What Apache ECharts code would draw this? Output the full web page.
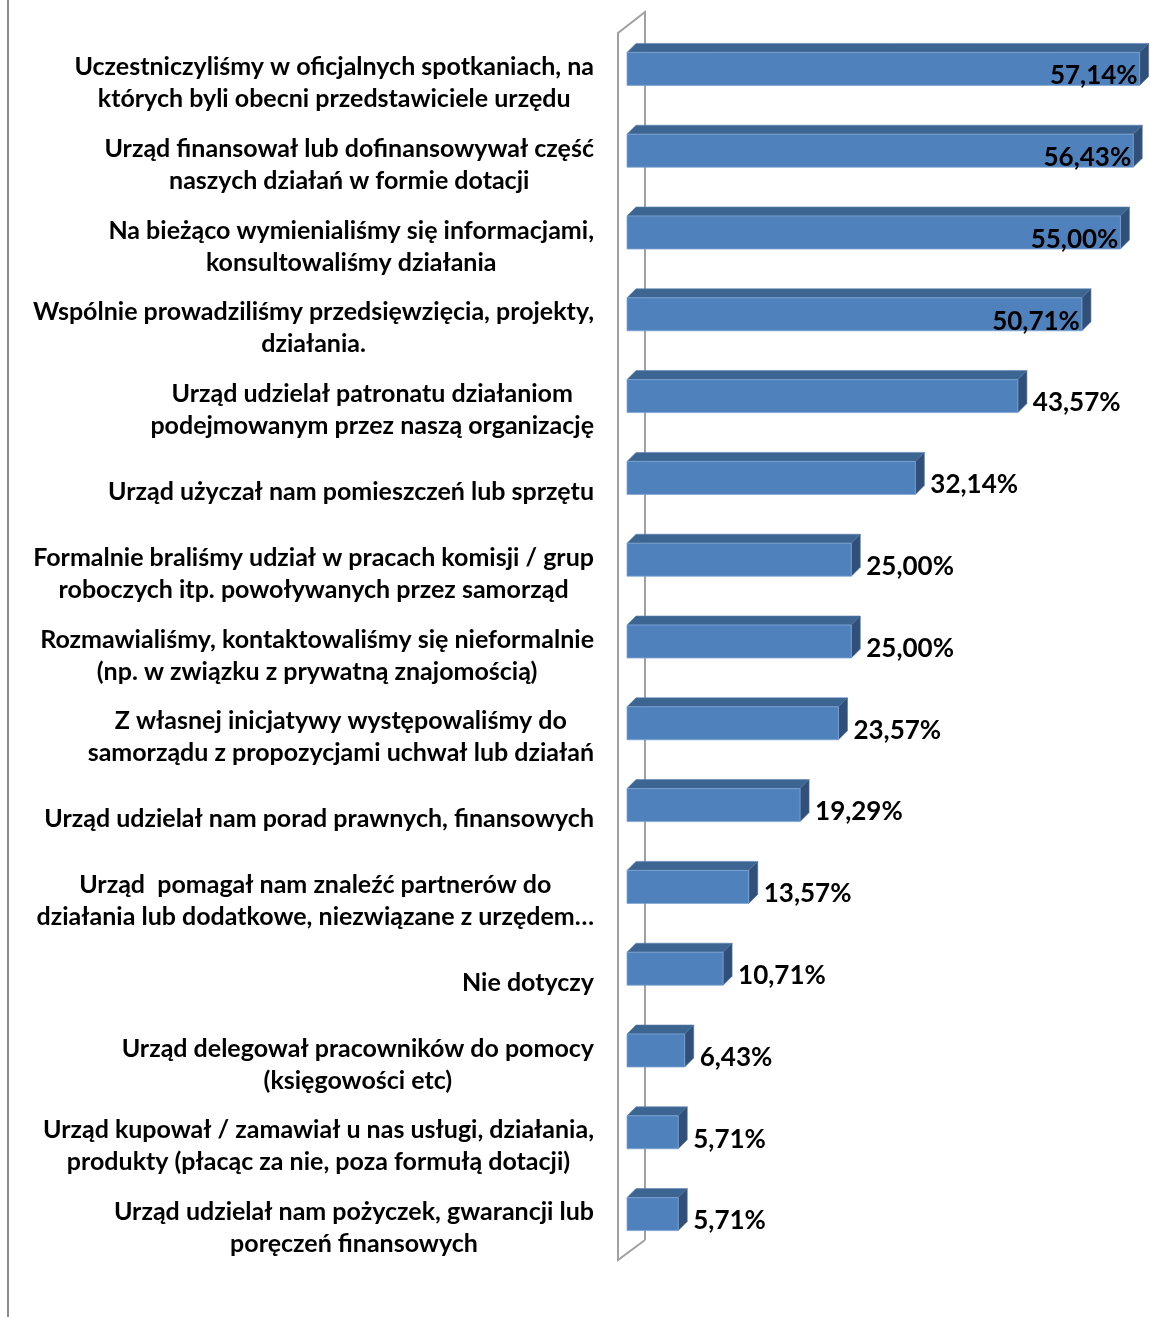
<!DOCTYPE html>
<html>
<head>
<meta charset="utf-8">
<script src="https://cdn.jsdelivr.net/npm/echarts@6/dist/echarts.min.js"></script>
<style>
html,body{margin:0;padding:0;background:#fff;}
#c{width:1150px;height:1317px;}
</style>
</head>
<body>
<div id="c"></div>
<script>
const categories = [
  "Uczestniczyliśmy w oficjalnych spotkaniach, na\nktórych byli obecni przedstawiciele urzędu",
  "Urząd finansował lub dofinansowywał część\nnaszych działań w formie dotacji",
  "Na bieżąco wymienialiśmy się informacjami,\nkonsultowaliśmy działania",
  "Wspólnie prowadziliśmy przedsięwzięcia, projekty,\ndziałania.",
  "Urząd udzielał patronatu działaniom\npodejmowanym przez naszą organizację",
  "Urząd użyczał nam pomieszczeń lub sprzętu",
  "Formalnie braliśmy udział w pracach komisji / grup\nroboczych itp. powoływanych przez samorząd",
  "Rozmawialiśmy, kontaktowaliśmy się nieformalnie\n(np. w związku z prywatną znajomością)",
  "Z własnej inicjatywy występowaliśmy do\nsamorządu z propozycjami uchwał lub działań",
  "Urząd udzielał nam porad prawnych, finansowych",
  "Urząd  pomagał nam znaleźć partnerów do\ndziałania lub dodatkowe, niezwiązane z urzędem…",
  "Nie dotyczy",
  "Urząd delegował pracowników do pomocy\n(księgowości etc)",
  "Urząd kupował / zamawiał u nas usługi, działania,\nprodukty (płacąc za nie, poza formułą dotacji)",
  "Urząd udzielał nam pożyczek, gwarancji lub\nporęczeń finansowych"
];
const values = [57.14, 56.43, 55.00, 50.71, 43.57, 32.14, 25.00, 25.00, 23.57, 19.29, 13.57, 10.71, 6.43, 5.71, 5.71];

const FONT = 'Lato';
const BAR_H = 33, DEPTH = 9, BAR_SHIFT = -12;

function fmt(v){ return v.toFixed(2).replace('.', ',') + '%'; }

const chart = echarts.init(document.getElementById('c'));

function renderItem(params, api){
  const cat = api.value(1);
  const v = api.value(0);
  const s = api.coord([0, cat]);
  const e = api.coord([v, cat]);
  const x0 = s[0], x1 = e[0];
  const yc = s[1] + BAR_SHIFT;
  const y0 = yc - BAR_H/2, y1 = yc + BAR_H/2, d = DEPTH;
  const inside = v > 45;
  return {
    type: 'group',
    children: [
      {type:'polygon', shape:{points:[[x0,y0],[x0+d,y0-d],[x1+d,y0-d],[x1,y0]]},
       style:{fill:'#3D6591', stroke:'#5b82b3', lineWidth:0.6}},
      {type:'polygon', shape:{points:[[x1,y0],[x1+d,y0-d],[x1+d,y1-d],[x1,y1]]},
       style:{fill:'#30507A', stroke:'#4a6d99', lineWidth:0.6}},
      {type:'rect', shape:{x:x0, y:y0, width:x1-x0, height:BAR_H},
       style:{fill:'#4F81BD', stroke:'#7ea3d1', lineWidth:0.8}},
      {type:'text', z2:10, style:{
        text: fmt(v),
        x: inside ? x1 - 2 : x1 + 15,
        y: yc + 7,
        align: inside ? 'right' : 'left',
        verticalAlign: 'middle',
        fontFamily: FONT, fontWeight: 'bold', fontSize: 26, fill: '#000'
      }}
    ]
  };
}

const option = {
  animation: false,
  backgroundColor: '#fff',
  grid: {left: 627, top: 40, right: 0, height: 1227, containLabel: false},
  xAxis: {type:'value', min:0, max:58.3, show:false},
  yAxis: {
    type:'category', data: categories, inverse: true,
    axisLine:{show:false}, axisTick:{show:false}, splitLine:{show:false},
    axisLabel:{
      margin: 33,
      align: 'right',
      padding: [4,0,0,0],
      formatter: function(val){
        return val.split('\n').map(l => '{a|' + l + '}').join('\n');
      },
      rich: {
        a: {align:'center', fontFamily: FONT, fontWeight:'bold', fontSize: 25, lineHeight: 32, color:'#000'}
      }
    }
  },
  series: [{
    type:'custom', z: 5,
    renderItem: renderItem,
    encode: {x:0, y:1},
    data: values.map((v,i) => [v, i])
  }]
};
chart.setOption(option);

// decorative wall and left border derived from the grid
const gx = chart.convertToPixel({xAxisIndex:0}, 0);
const gTop = 40, gBot = 40 + 1227;
chart.setOption({
  graphic: [
    {type:'polyline', z:0, silent:true,
     shape:{points:[[gx+18, gBot-27],[gx+18, gTop-28],[gx-9, gTop-7],[gx-9, gBot-7],[gx+18, gBot-27]]},
     style:{stroke:'#a0a0a0', lineWidth:2, fill:null}},
    {type:'line', z:0, silent:true, shape:{x1:8, y1:0, x2:8, y2:1317},
     style:{stroke:'#8c8c8c', lineWidth:2}}
  ]
});
</script>
</body>
</html>
